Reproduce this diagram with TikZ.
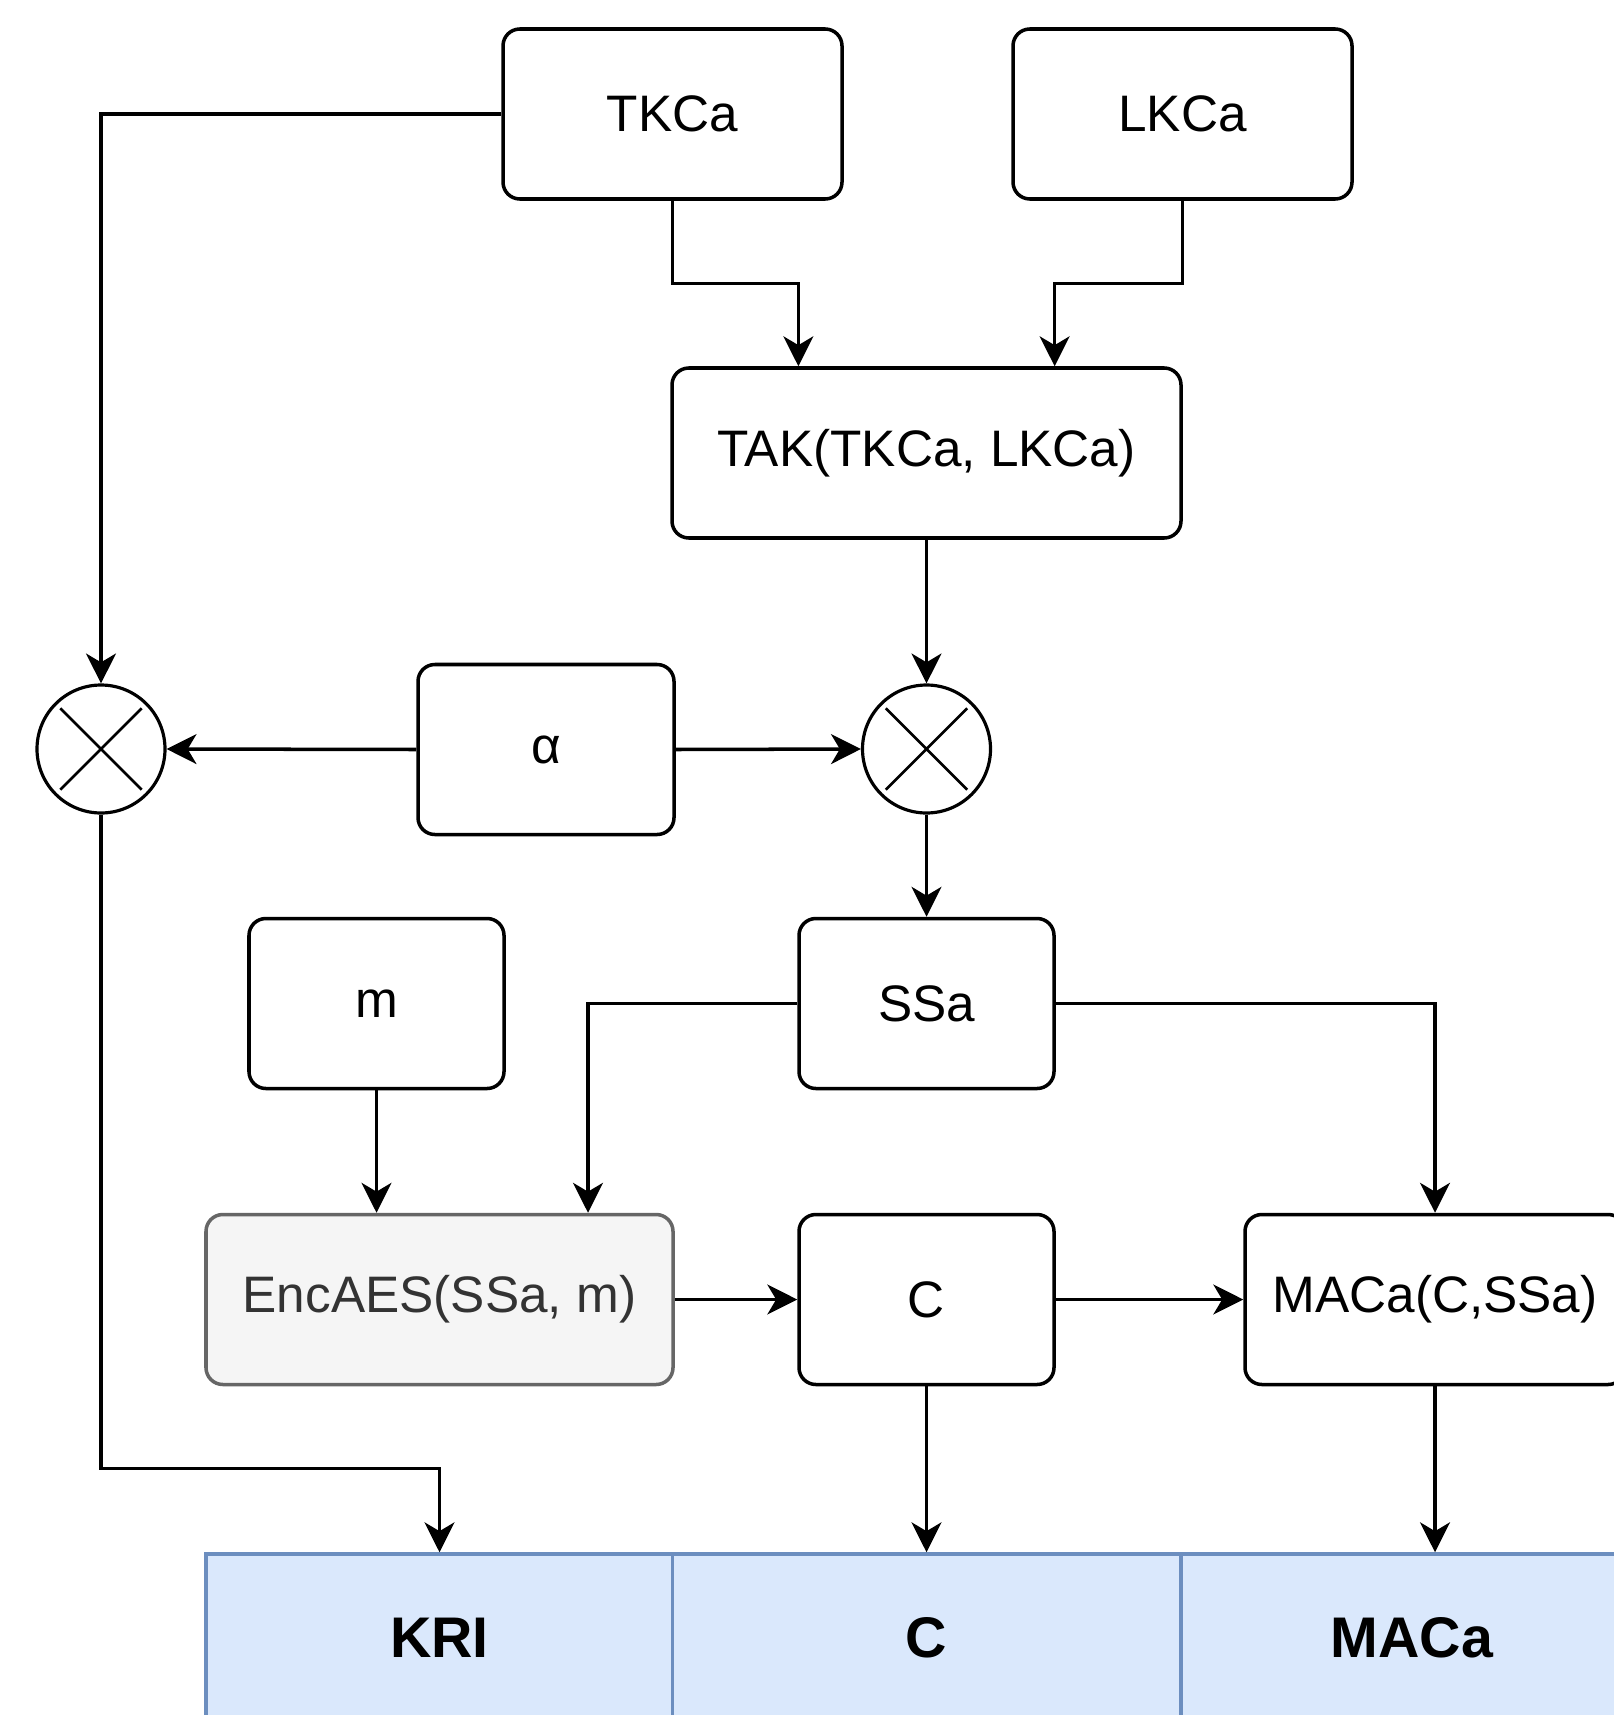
\documentclass[tikz,border=0pt]{standalone}
\usepackage{fontspec}
\setmainfont{Liberation Sans}
\definecolor{encfill}{RGB}{245,245,245}
\definecolor{encline}{RGB}{102,102,102}
\definecolor{enctext}{RGB}{51,51,51}
\definecolor{fieldfill}{RGB}{218,232,252}
\definecolor{fieldline}{RGB}{108,142,191}
\usetikzlibrary{arrows.meta,positioning,calc}

\begin{document}
\begin{tikzpicture}[
  keybox/.style={
    rectangle, rounded corners=4.8pt,
    minimum width=2.55cm, minimum height=1.7cm,
    draw=black, line width=1pt,
    fill=white, inner sep=0pt,
    font=\fontsize{14.6}{17}\selectfont
  },
  encbox/.style={keybox, draw=encline, fill=encfill, text=enctext},
  mulnode/.style={circle, draw=black, line width=0.9pt, minimum size=1.28cm, inner sep=0pt},
  fieldbox/.style={
    rectangle, draw=fieldline, fill=fieldfill, line width=1pt,
    minimum height=1.68cm, inner sep=0pt,
    font=\fontsize{16.3}{19}\selectfont\bfseries
  },
  conn/.style={-{Stealth[length=8.5pt,width=8.5pt,inset=2.5pt]}, line width=1pt, draw=black}
]
\useasboundingbox (0,0) rectangle (16.14,-17.15);
\clip (0,0) rectangle (16.14,-17.15);

\node[keybox, minimum width=3.39cm] (tkca) at (6.725,-1.14)  {TKCa};
\node[keybox, minimum width=3.39cm] (lkca) at (11.825,-1.14) {LKCa};
\node[keybox, minimum width=5.09cm] (tak)  at (9.265,-4.53)  {TAK(TKCa, LKCa)};

\node[mulnode] (mulL) at (1.01,-7.49) {};
\node[keybox, minimum width=2.56cm] (alpha) at (5.46,-7.495) {α};
\node[mulnode] (mulR) at (9.265,-7.49) {};

\node[keybox] (msg) at (3.765,-10.035) {m};
\node[keybox] (ssa) at (9.265,-10.035) {SSa};

\node[encbox, minimum width=4.67cm] (enc) at (4.395,-12.995) {EncAES(SSa, m)};
\node[keybox]                       (ctext) at (9.265,-12.995) {C};
\node[keybox, minimum width=3.8cm]  (mac) at (14.35,-12.995) {MACa(C,SSa)};

\node[fieldbox, minimum width=4.67cm] (kri)    at (4.395,-16.38) {KRI};
\node[fieldbox, minimum width=5.08cm] (cout)   at (9.265,-16.38) {C};
\node[fieldbox, minimum width=4.62cm] (macout) at (14.12,-16.38) {MACa};

% crosses in the multipliers
\foreach \mul in {mulL,mulR}
  \draw[line width=0.75pt] ($(\mul)+(45:0.575)$) -- ($(\mul)+(225:0.575)$)
                           ($(\mul)+(135:0.575)$) -- ($(\mul)+(-45:0.575)$);

\coordinate (takin1) at ($(tak.north west)!0.25!(tak.north east)$);
\coordinate (takin2) at ($(tak.north west)!0.75!(tak.north east)$);

\draw[conn] (tkca.south) |- ($(tkca.south)!0.5!(takin1)$) -| (takin1);
\draw[conn] (lkca.south) |- ($(lkca.south)!0.5!(takin2)$) -| (takin2);
\draw[conn] (tkca.west) -| (mulL.north);
\draw[conn] (tak.south) -- (mulR.north);
\draw[conn] (alpha.west) -- (mulL.east);
\draw[conn] (alpha.east) -- (mulR.west);
\draw[conn] (mulR.south) -- (ssa.north);

\draw[conn] (ssa.west) -| ([xshift=1.485cm]enc.north);
\draw[conn] (ssa.east) -| (mac.north);
\draw[conn] (msg.south) -- (msg.south |- enc.north);
\draw[conn] (enc.east) -- (ctext.west);
\draw[conn] (ctext.east) -- (mac.west);

\draw[conn] (mulL.south) |- ([yshift=0.84cm]kri.north) -- (kri.north);
\draw[conn] (ctext.south) -- (ctext.south |- cout.north);
\draw[conn] (mac.south) -- (mac.south |- macout.north);
\end{tikzpicture}
\end{document}
